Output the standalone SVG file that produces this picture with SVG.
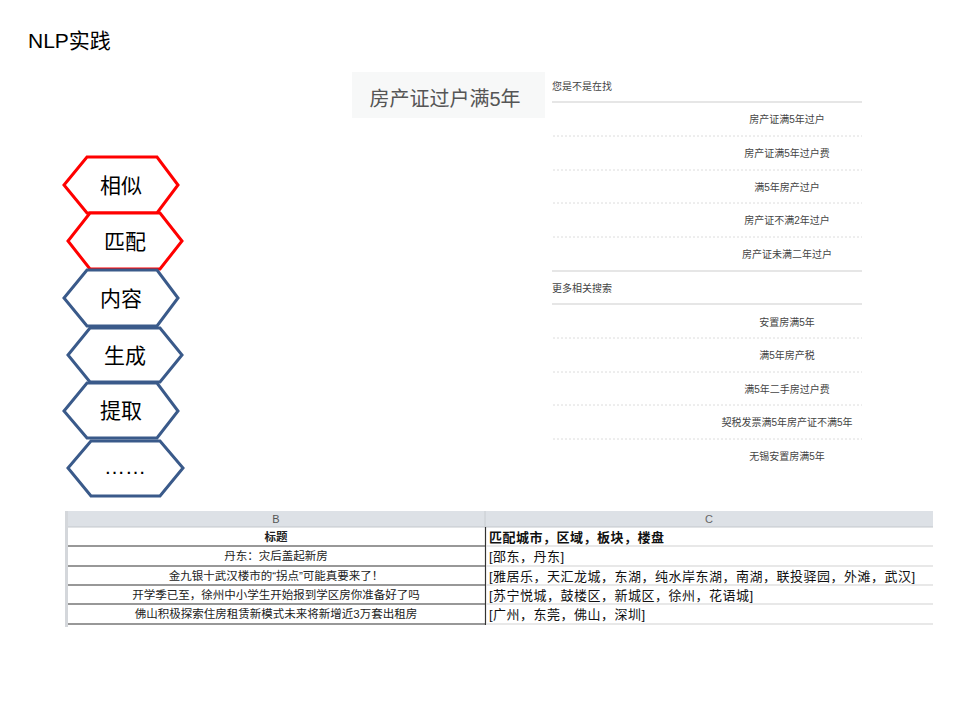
<svg xmlns="http://www.w3.org/2000/svg" width="960" height="720" viewBox="0 0 960 720">
<style>
text{font-family:"Liberation Sans","Noto Sans CJK SC",sans-serif}
.hex{fill:#fff;stroke-width:3;stroke-linejoin:miter}
.red{stroke:#ff0000}
.blue{stroke:#3a5a8a}
.ht{font-size:21px;fill:#000;text-anchor:middle}
.sug{font-size:10px;fill:#444;text-anchor:middle}
.sh{font-size:10px;fill:#444}
.dash{stroke:#dcdcdc;stroke-width:1;stroke-dasharray:2 2}
.solid{stroke:#e6e6e6;stroke-width:2}
.tb{font-size:11.5px;fill:#222;text-anchor:middle}
.tc{font-size:13px;fill:#111;letter-spacing:0.5px}
</style>
<rect width="960" height="720" fill="#fff"/>
<text x="28" y="48" font-size="21" fill="#000">NLP实践</text>

<g id="search-box">
<rect x="352" y="72" width="193" height="46" fill="#f7f8f8"/>
<text x="445" y="106" font-size="20" fill="#555" text-anchor="middle">房产证过户满5年</text>
</g>

<g id="suggestions">
<text class="sh" x="552" y="90">您是不是在找</text>
<line class="solid" x1="552" y1="102" x2="862" y2="102"/>
<text class="sug" x="787" y="123">房产证满5年过户</text>
<line class="dash" x1="553" y1="136" x2="862" y2="136"/>
<text class="sug" x="787" y="157">房产证满5年过户费</text>
<line class="dash" x1="553" y1="170" x2="862" y2="170"/>
<text class="sug" x="787" y="191">满5年房产过户</text>
<line class="dash" x1="553" y1="203" x2="862" y2="203"/>
<text class="sug" x="787" y="224">房产证不满2年过户</text>
<line class="dash" x1="553" y1="237" x2="862" y2="237"/>
<text class="sug" x="787" y="258">房产证未满二年过户</text>
<line class="solid" x1="552" y1="271" x2="862" y2="271"/>
<text class="sh" x="552" y="292">更多相关搜索</text>
<line class="solid" x1="552" y1="304" x2="862" y2="304"/>
<text class="sug" x="787" y="326">安置房满5年</text>
<line class="dash" x1="553" y1="338" x2="862" y2="338"/>
<text class="sug" x="787" y="359">满5年房产税</text>
<line class="dash" x1="553" y1="372" x2="862" y2="372"/>
<text class="sug" x="787" y="393">满5年二手房过户费</text>
<line class="dash" x1="553" y1="405" x2="862" y2="405"/>
<text class="sug" x="787" y="426">契税发票满5年房产证不满5年</text>
<line class="dash" x1="553" y1="439" x2="862" y2="439"/>
<text class="sug" x="787" y="460">无锡安置房满5年</text>
</g>

<g id="hex-xiangsi">
<polygon class="hex red" points="87,157 157,157 178,185 157,213 87,213 64,185"/>
<text class="ht" x="121" y="193">相似</text>
</g>
<g id="hex-pipei">
<polygon class="hex red" points="90,213 160,213 182,241 160,269 90,269 68,241"/>
<text class="ht" x="125" y="249">匹配</text>
</g>
<g id="hex-neirong">
<polygon class="hex blue" points="87,270 157,270 178,298 157,326 87,326 64,298"/>
<text class="ht" x="121" y="306">内容</text>
</g>
<g id="hex-shengcheng">
<polygon class="hex blue" points="90,328 160,328 182,355 160,382 90,382 68,355"/>
<text class="ht" x="125" y="363">生成</text>
</g>
<g id="hex-tiqu">
<polygon class="hex blue" points="87,383 157,383 178,411 157,438 87,438 64,411"/>
<text class="ht" x="121" y="418">提取</text>
</g>
<g id="hex-more">
<polygon class="hex blue" points="91,441 160,441 183,468 160,496 91,496 68,468"/>
<text class="ht" x="125" y="474" font-size="18">……</text>
</g>

<g id="connectors"></g>

<g id="table">
<rect x="65" y="511" width="868" height="16" fill="#dde1e6"/>
<line x1="65" y1="527" x2="933" y2="527" stroke="#c3c7cc" stroke-width="1"/>
<rect x="65" y="511" width="3" height="116" fill="#d4d7db"/>
<line x1="485" y1="511" x2="485" y2="527" stroke="#c8ccd0" stroke-width="1"/>
<text x="276" y="523" font-size="11" fill="#555" text-anchor="middle">B</text>
<text x="709" y="523" font-size="11" fill="#666" text-anchor="middle">C</text>
<g stroke="#333" stroke-width="1.2">
<line x1="68" y1="546" x2="486" y2="546"/>
<line x1="68" y1="566" x2="486" y2="566"/>
<line x1="68" y1="585" x2="486" y2="585"/>
<line x1="68" y1="604" x2="486" y2="604"/>
<line x1="68" y1="624" x2="486" y2="624"/>
<line x1="485.5" y1="527" x2="485.5" y2="625"/>
</g>
<g stroke="#e0e0e0" stroke-width="1.5">
<line x1="486" y1="546" x2="933" y2="546"/>
<line x1="486" y1="566" x2="933" y2="566"/>
<line x1="486" y1="585" x2="933" y2="585"/>
<line x1="486" y1="604" x2="933" y2="604"/>
<line x1="486" y1="624" x2="933" y2="624"/>
</g>
<text class="tb" x="276" y="541" font-weight="bold">标题</text>
<text class="tb" x="276" y="560">丹东：灾后盖起新房</text>
<text class="tb" x="276" y="580">金九银十武汉楼市的“拐点”可能真要来了！</text>
<text class="tb" x="276" y="599">开学季已至，徐州中小学生开始报到学区房你准备好了吗</text>
<text class="tb" x="276" y="618">佛山积极探索住房租赁新模式未来将新增近3万套出租房</text>
<text class="tc" x="489" y="542" font-weight="bold">匹配城市，区域，板块，楼盘</text>
<text class="tc" x="489" y="561">[邵东，丹东]</text>
<text class="tc" x="489" y="581">[雅居乐，天汇龙城，东湖，纯水岸东湖，南湖，联投驿园，外滩，武汉]</text>
<text class="tc" x="489" y="600">[苏宁悦城，鼓楼区，新城区，徐州，花语城]</text>
<text class="tc" x="489" y="619">[广州，东莞，佛山，深圳]</text>
</g>
</svg>
